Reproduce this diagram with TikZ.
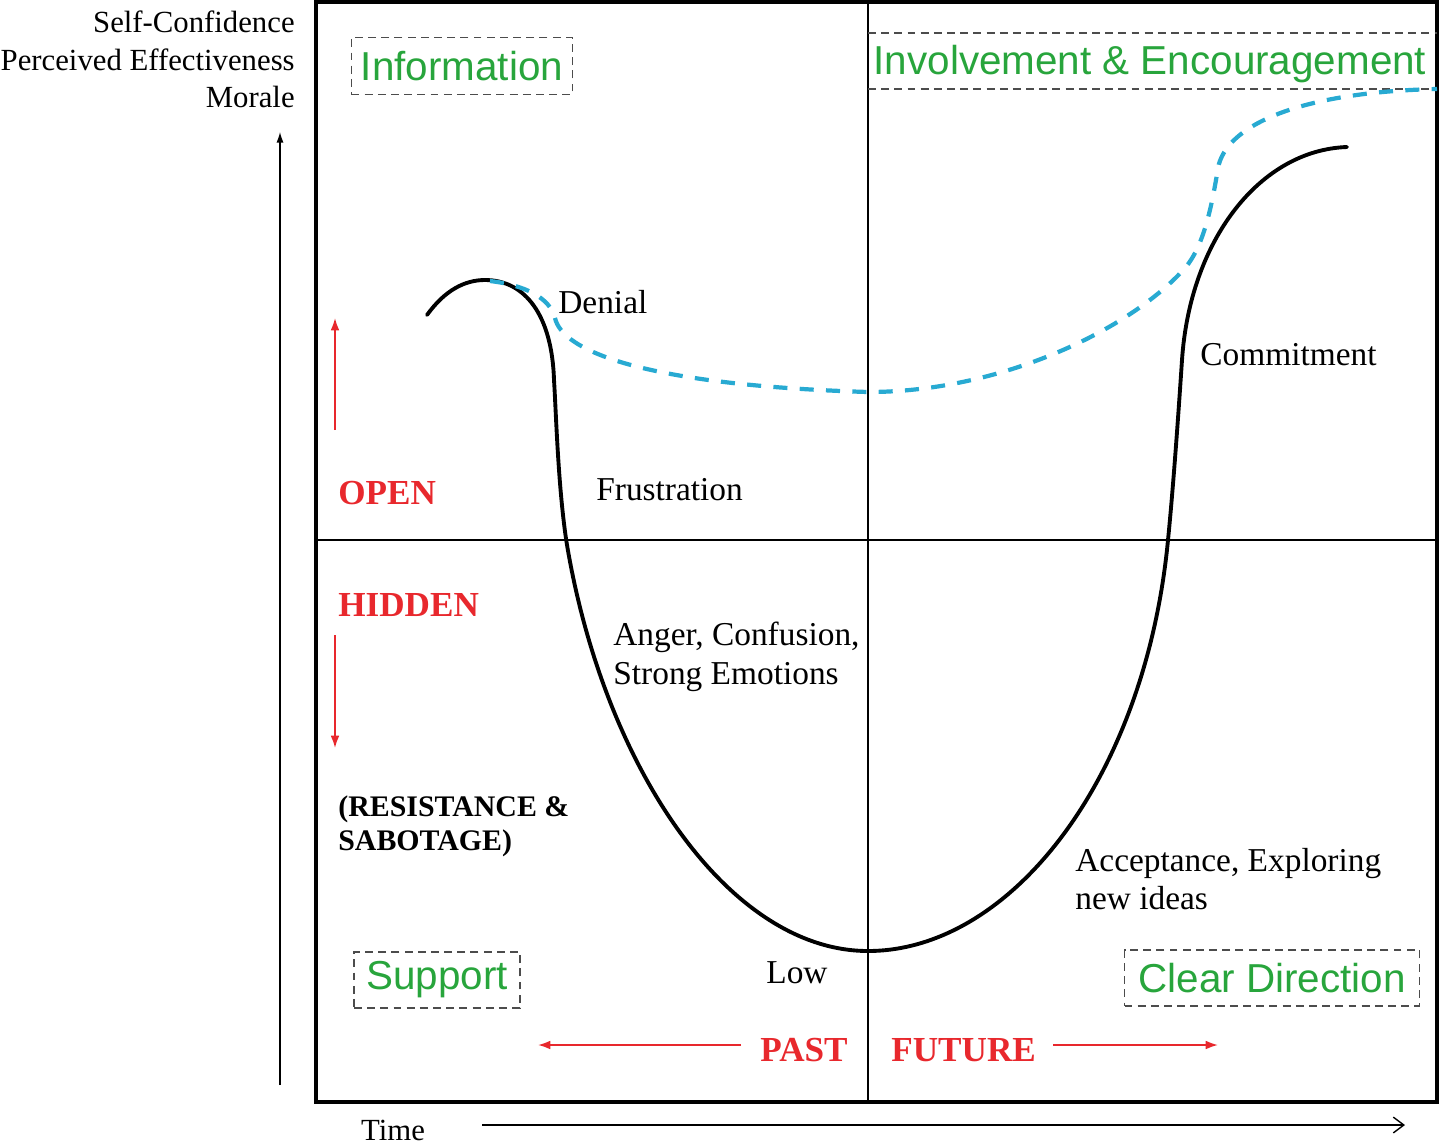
\documentclass[tikz,border=0pt]{standalone}
\usepackage{fontspec}
\setmainfont{Liberation Serif}
\newfontfamily\boxfont{Liberation Sans}
\usetikzlibrary{arrows.meta}

\definecolor{needgreen}{RGB}{40,165,60}
\definecolor{zonered}{RGB}{232,40,45}
\definecolor{morale}{RGB}{40,170,210}

\begin{document}
\begin{tikzpicture}[x=0.02cm,y=-0.02cm,
  axislabel/.style={font=\fontsize{17.5}{20}\selectfont},
  stage/.style={font=\fontsize{19}{22}\selectfont,anchor=west,inner sep=0pt},
  zone/.style={font=\fontsize{20}{23}\selectfont\bfseries,text=zonered,inner sep=0pt},
  need/.style={font=\boxfont\fontsize{23}{26}\selectfont,text=needgreen,inner sep=0pt},
  needbox/.style={need,draw=black!70,dash pattern=on 4.5pt off 3pt,line width=0.8pt},
  trend/.style={-{Latex[length=7pt,width=5pt]},line width=1pt,zonered}]

  % Page size
  \useasboundingbox (0,0) rectangle (1441,1144);

  % Draw the frame and the quadrants
  \draw[line width=1.8pt] (316,2) rectangle (1437,1102);
  \draw[line width=0.8pt] (868,2) -- (868,1102);
  \draw[line width=0.8pt] (316,540) -- (1437,540);

  % Axes
  \node[axislabel,anchor=east,inner sep=0pt] (conf) at (295,22) {Self-Confidence};
  \node[axislabel,anchor=east,inner sep=0pt] (eff)  at (295,60) {Perceived Effectiveness};
  \node[axislabel,anchor=east,inner sep=0pt] (mor)  at (295,97) {Morale};
  \coordinate (ybot) at (280,1085);
  \coordinate (ytop) at (280,132);
  \draw[-{Latex[length=6pt,width=4pt]},line width=0.7pt] (ybot) -- (ytop);

  \node[axislabel,inner sep=0pt] (time) at (393,1130) {Time};
  \coordinate (tstart) at (482,1125);
  \coordinate (tend) at (1405,1125);
  \draw[-{Straight Barb[length=6pt,width=9pt]},line width=0.8pt] (tstart) -- (tend);

  % Draw the support needed in each phase
  \node[needbox,minimum width=4.42cm,minimum height=1.14cm] (info) at (462,66) {Information};
  \node[needbox,minimum width=3.32cm,minimum height=1.12cm] (support) at (437,980) {Support};
  \node[needbox,minimum width=5.9cm,minimum height=1.12cm] (direction) at (1272,978) {Clear Direction};
  \node[need] (involve) at (1150,64) {Involvement \& Encouragement};
  \draw[black!70,dash pattern=on 4.5pt off 3pt,line width=0.8pt] (868,33) -- (1437,33);
  \draw[black!70,dash pattern=on 4.5pt off 3pt,line width=0.8pt] (868,89) -- (1437,89);

  % Open and hidden reactions
  \node[zone,anchor=west] (open) at (338,493) {OPEN};
  \node[zone,anchor=west] (hidden) at (338,605) {HIDDEN};
  \coordinate (upfrom) at (335,430);
  \coordinate (upto) at (335,318);
  \coordinate (downfrom) at (335,635);
  \coordinate (downto) at (335,748);
  \draw[trend] (upfrom) -- (upto);
  \draw[trend] (downfrom) -- (downto);
  \node[anchor=west,inner sep=0pt,align=left,font=\fontsize{17}{19.5}\selectfont\bfseries]
    (resist) at (338,826) {(RESISTANCE \&\\SABOTAGE)};

  % Past and future
  \node[zone,anchor=east] (past) at (848,1050) {PAST};
  \node[zone,anchor=west] (future) at (891,1050) {FUTURE};
  \coordinate (pastto) at (538,1045);
  \coordinate (futto) at (1218,1045);
  \draw[trend] (past.west |- pastto) ++(-19,0) -- (pastto);
  \draw[trend] (future.east |- futto) ++(17,0) -- (futto);

  % Draw the morale curve
  \draw[line width=2.2pt,line cap=round]
    (427,315) .. controls (445,290) and (465,280) .. (485,280)
              .. controls (525,280) and (552,315) .. (554,380)
              .. controls (556,410) and (558,489) .. (567,545)
              .. controls (605,770) and (730,951) .. (868,951)
              .. controls (1010,951) and (1145,780) .. (1168,540)
              .. controls (1173,490) and (1178,420) .. (1182,360)
              .. controls (1190,240) and (1260,150) .. (1347,147);

  % Draw the curve with involvement
  \draw[morale,line width=2.4pt,dash pattern=on 8pt off 7pt]
    (490,281) .. controls (525,285) and (550,298) .. (555,318)
              .. controls (562,350) and (640,385) .. (868,392)
              .. controls (1000,392) and (1130,330) .. (1185,268)
              .. controls (1204,246) and (1212,205) .. (1218,168)
              .. controls (1226,125) and (1300,92) .. (1437,89);

  % Stages of the change
  \node[stage] (denial) at (558,302) {Denial};
  \node[stage] (frust) at (596,490) {Frustration};
  \node[stage,align=left] (anger) at (613,657) {Anger, Confusion,\\Strong Emotions};
  \node[stage] (low) at (766,973) {Low};
  \node[stage,align=left] (accept) at (1075,879) {Acceptance, Exploring\\new ideas};
  \node[stage] (commit) at (1200,355) {Commitment};

\end{tikzpicture}
\end{document}
